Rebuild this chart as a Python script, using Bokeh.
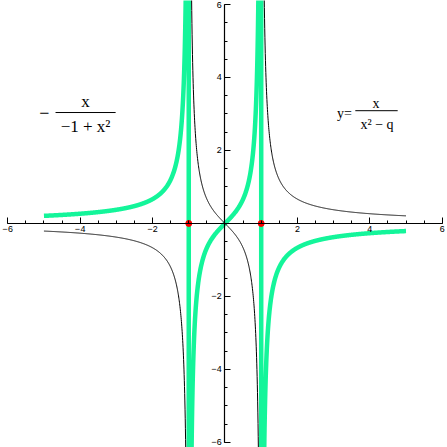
import numpy as np
from bokeh.plotting import figure
from bokeh.models import SingleIntervalTicker, Label
from bokeh.embed import file_html
from bokeh.resources import INLINE

# Data: the plotted function y = x/(x^2 - q) with q = 1, and its negative
q = 1.0
x_start, x_end = -5.0, 5.0
n_samples = 2000
pole_x = [-1.0, 1.0]
pole_y = [0.0, 0.0]

xs = np.linspace(x_start, x_end, n_samples)
y_black = xs / (xs ** 2 - q)
y_black_plot = np.where(np.abs(y_black) > 60, np.nan, y_black)
y_green = -xs / (-q + xs ** 2)

p = figure(width=447, height=447, x_range=(-6.20, 6.146), y_range=(-6.14, 6.11),
           output_backend="svg", toolbar_location=None, min_border=0,
           background_fill_color="white", border_fill_color="white")
p.outline_line_color = None
p.grid.visible = False

for ax in (p.xaxis[0], p.yaxis[0]):
    ax.fixed_location = 0
    ax.ticker = SingleIntervalTicker(interval=2, num_minor_ticks=4)
    ax.bounds = (-6, 6)
    ax.major_tick_in = 6
    ax.major_tick_out = 0
    ax.minor_tick_in = 3
    ax.minor_tick_out = 0
    ax.axis_line_color = "black"
    ax.axis_line_width = 1.2
    ax.major_tick_line_color = "black"
    ax.minor_tick_line_color = "black"
    ax.major_label_text_font = "Liberation Mono"
    ax.major_label_text_font_size = "9px"
    ax.major_label_text_color = "black"
    ax.major_label_overrides = {0: ""}
    ax.major_label_standoff = 3

# green thick curve (-x/(-1+x^2)), joined across the poles
p.line(xs, y_green, line_color="#14F59A", line_width=4.5, line_join="round")
# black thin curve (x/(x^2-1))
p.line(xs, y_black_plot, line_color="black", line_width=1)
# red points at the poles on the axis
p.scatter(pole_x, pole_y, size=6, color="red")

serif = "Liberation Serif"

def lab(x, y, t, size, align="center"):
    p.add_layout(Label(x=x, y=y, text=t, text_font=serif, text_font_size=size,
                       text_align=align, text_baseline="middle", text_color="black"))

# left formula: - x / (-1 + x^2)
lab(-4.99, 3.04, "\u2212", "18px")
lab(-3.85, 3.34, "x", "17px")
p.segment(x0=[-4.68], y0=[3.04], x1=[-3.02], y1=[3.04], line_color="black", line_width=1)
lab(-3.85, 2.66, "\u22121 + x\u00b2", "17px")

# right formula: y = x / (x^2 - q)
lab(3.30, 3.01, "y=", "14px")
lab(4.17, 3.28, "x", "14px")
p.segment(x0=[3.60], y0=[3.09], x1=[4.77], y1=[3.09], line_color="black", line_width=1)
lab(4.20, 2.72, "x\u00b2 \u2212 q", "14px")

open("out.html", "w").write(file_html(p, INLINE))
